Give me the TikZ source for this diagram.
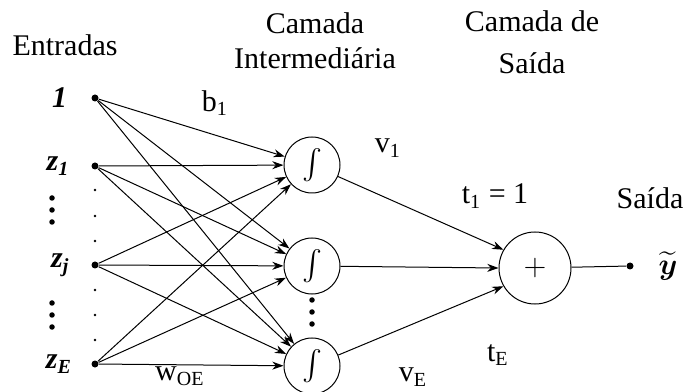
\documentclass[tikz,border=0pt]{standalone}
\usepackage{amsmath}
\usepackage{amssymb}
\usepackage{fontspec}
\setmainfont{Liberation Serif}
\usetikzlibrary{arrows.meta, positioning}

\tikzset{
	neuronio/.style={draw, circle, minimum size=22.4pt, inner sep=0pt},
	somador/.style={draw, circle, minimum size=28.8pt, inner sep=0pt},
	entrada/.style={circle, fill, inner sep=0pt, minimum size=2.8pt},
	pontinho/.style={circle, fill, inner sep=0pt, minimum size=1.1pt},
	pontao/.style={circle, fill, inner sep=0pt, minimum size=2.2pt},
	peso/.style={-{Stealth[length=4.5pt, width=3.2pt]}},
}

\begin{document}
\begin{tikzpicture}[x=0.4pt, y=-0.4pt, font=\fontsize{12}{14}\selectfont]
				\useasboundingbox (0,0) rectangle (686,392);
				
				% cabecalhos
				\node (tEnt) at (65,45) {Entradas};
				\node[align=center] (tInt) at (315,41) {Camada\\Intermediária};
				\node[align=center] (tSai) at (532,42) {Camada de\\[3pt]Saída};
				
				% entradas
				\node[entrada] (x0) at (95,98) {};
				\node[entrada] (x1) at (95,166) {};
				\node[entrada] (xj) at (95,265) {};
				\node[entrada] (xE) at (95,364) {};
				\node[left=6pt of x0] {\textbf{\textit{1}}};
				\node[left=5pt of x1] {\textbf{\textit{z\textsubscript{1}}}};
				\node[left=5pt of xj] {\textbf{\textit{z\textsubscript{j}}}};
				\node[left=4pt of xE] {\textbf{\textit{z\textsubscript{E}}}};
				
				% reticencias
				\foreach \y in {198,210,222,303,315,327}
					\node[pontao] at (52,\y) {};
				\foreach \y in {190,216,241,290,315,340}
					\node[pontinho] at (95,\y) {};
				\foreach \y in {300,312,324}
					\node[pontao] at (312,\y) {};
				
				% camada intermediaria
				\node[neuronio] (h1) at (312,165) {$\int$};
				\node[neuronio] (h2) at (312,266) {$\int$};
				\node[neuronio] (hE) at (312,366) {$\int$};
				
				% camada de saida
				\node[somador] (s) at (535,268) {$+$};
				\node[entrada] (y) at (630,266) {};
				\node (yt) at (668,266) {$\widetilde{\boldsymbol{y}}$};
				
				% pesos de entrada
				\draw[peso] (x0) -- (h1);
				\draw[peso] (x0) -- (h2);
				\draw[peso] (x0) -- (hE);
				\draw[peso] (x1) -- (h1);
				\draw[peso] (x1) -- (h2);
				\draw[peso] (x1) -- (hE);
				\draw[peso] (xj) -- (h1);
				\draw[peso] (xj) -- (h2);
				\draw[peso] (xj) -- (hE);
				\draw[peso] (xE) -- (h1);
				\draw[peso] (xE) -- (h2);
				\draw[peso] (xE) -- (hE);
				
				% pesos de saida
				\draw[peso] (h1) -- (s.150);
				\draw[peso] (h2) -- (s.west);
				\draw[peso] (hE) -- (s.210);
				\draw (s) -- (y);
				
				% rotulos
				\node at (215,103) {b\textsubscript{1}};
				\node at (388,148) {v\textsubscript{1}};
				\node at (495,196) {t\textsubscript{1} = 1};
				\node at (650,198) {Saída};
				\node at (498,355) {t\textsubscript{E}};
				\node at (413,377) {v\textsubscript{E}};
				\node at (180,376) {w\textsubscript{OE}};
			\end{tikzpicture}
\end{document}
